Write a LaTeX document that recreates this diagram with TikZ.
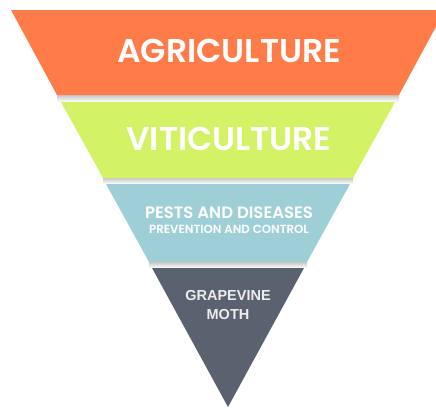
\documentclass[tikz,border=0pt]{standalone}
\usepackage{fontspec}
\setmainfont{Poppins}[BoldFont={* SemiBold}]
\newfontfamily\mothfont{Liberation Sans}
\definecolor{agri}{HTML}{FF7B47}
\definecolor{viti}{HTML}{D4F266}
\definecolor{pest}{HTML}{9FCFD6}
\definecolor{moth}{HTML}{59626E}
\tikzset{
  lbl/.style={text=white, font=\bfseries, inner sep=0pt, anchor=center},
  gap/.style={top color=black!22, bottom color=white, draw=none}
}
\begin{document}
\begin{tikzpicture}[x=1pt,y=-1pt]
\useasboundingbox (0,0) rectangle (436,407);
\begin{scope}
\clip (0,0) rectangle (436,407);
% shadows
\shade[gap] (57,95) rectangle (399,102);
\shade[gap] (103,178) rectangle (353,184);
\shade[gap] (149,262) rectangle (307,268);
% bands
\fill[agri] (11,10) -- (445,10) -- (399,95) -- (57,95) -- cycle;
\fill[viti] (61,102) -- (395,102) -- (353,178) -- (103,178) -- cycle;
\fill[pest] (106,184) -- (350,184) -- (307,262) -- (149,262) -- cycle;
\fill[moth] (152,268) -- (304,268) -- (228,407) -- cycle;
\end{scope}
\node[lbl, font=\bfseries\fontsize{33}{33}\selectfont] (a) at (229,51) {AGRICULTURE};
\node[lbl, font=\bfseries\fontsize{33}{33}\selectfont] (v) at (229,139) {VITICULTURE};
\node[lbl, font=\bfseries\fontsize{16.5}{16.5}\selectfont] (p1) at (229,213) {PESTS AND DISEASES};
\node[lbl, font=\bfseries\fontsize{11.8}{11.8}\selectfont] (p2) at (229,229) {PREVENTION AND CONTROL};
\node[lbl, text=white!93!black, font=\mothfont\bfseries\fontsize{14.5}{14.5}\selectfont] (g1) at (228,296) {GRAPEVINE};
\node[lbl, text=white!93!black, font=\mothfont\bfseries\fontsize{14.5}{14.5}\selectfont] (g2) at (228,315) {MOTH};
\end{tikzpicture}
\end{document}
